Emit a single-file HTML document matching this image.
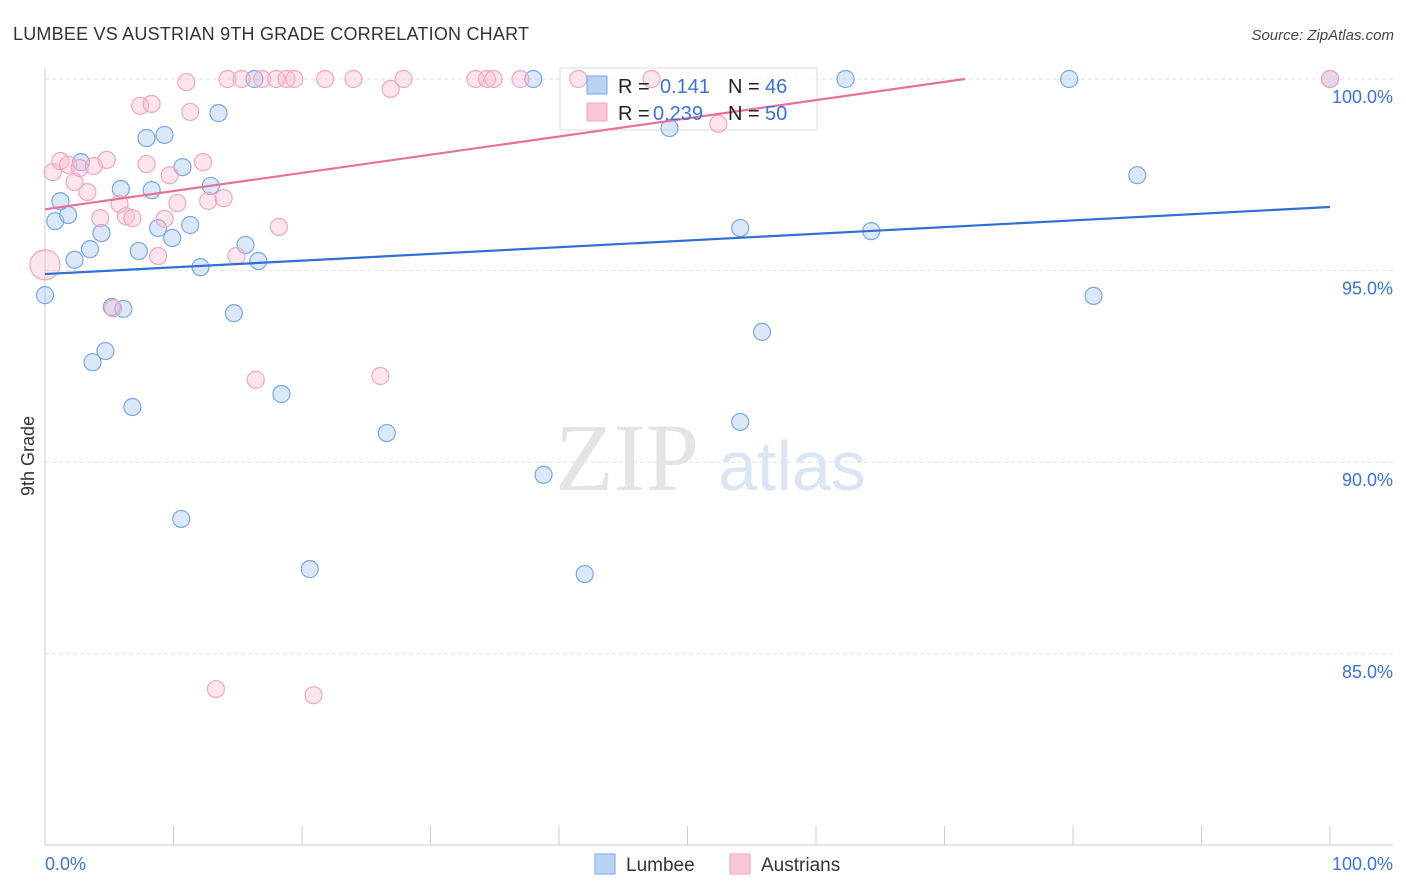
<!DOCTYPE html>
<html><head><meta charset="utf-8"><style>
body{margin:0;background:#fff;font-family:"Liberation Sans",sans-serif;}
#wrap{position:relative;width:1406px;height:892px;overflow:hidden;}
</style></head><body>
<div id="wrap">
<svg id="svg" width="1406" height="892"></svg>
</div>
<script>
const blueX=[0,0.8,1.2,1.8,2.3,2.8,3.5,3.7,4.4,4.7,5.2,6.1,5.9,6.8,7.3,7.9,8.3,8.8,9.3,9.9,10.7,10.6,11.3,12.1,12.9,13.5,14.7,15.6,16.3,16.6,18.4,20.6,26.6,38.0,38.8,42.0,48.6,54.1,54.1,55.8,62.3,64.3,79.7,81.6,85.0,100];
const blueY=[94.36,96.29,96.81,96.45,95.28,97.83,95.56,92.61,95.98,92.90,94.05,94.00,97.13,91.44,95.51,98.46,97.10,96.11,98.54,95.85,97.70,88.52,96.19,95.09,97.21,99.11,93.89,95.67,100,95.25,91.78,87.21,90.76,100,89.67,87.08,98.72,96.11,91.05,93.40,100,96.03,100,94.34,97.49,100];
const pinkX=[0,0.6,1.2,1.8,2.3,2.7,3.3,3.8,4.3,4.8,5.3,5.8,6.3,6.8,7.4,7.9,8.3,8.8,9.3,9.7,10.3,11.0,11.3,12.3,12.7,13.3,13.9,14.2,14.9,15.3,16.4,16.9,18.0,18.2,18.8,19.4,20.9,21.8,24.0,26.1,26.9,27.9,33.5,34.4,34.9,37.0,41.5,47.2,52.4,100];
const pinkY=[95.15,97.57,97.86,97.76,97.31,97.68,97.05,97.73,96.37,97.89,94.02,96.74,96.42,96.37,99.30,97.78,99.35,95.38,96.35,97.49,96.76,99.92,99.14,97.83,96.82,84.08,96.89,100,95.38,100,92.15,100,100,96.14,100,100,83.92,100,100,92.25,99.74,100,100,100,100,100,100,100,98.83,100];
const blueTrend=[94.91,96.66];
const pinkTrend=[96.6,101.35];
const yTicks=[100,95,90,85];
const yTickLabels=["100.0%","95.0%","90.0%","85.0%"];

const svg=document.getElementById('svg');
const NS='http://www.w3.org/2000/svg';
const X=v=>45+v*12.85;
const Y=v=>79+(100-v)*38.32;
function mk(t,a,p){const e=document.createElementNS(NS,t);for(const k in a)e.setAttribute(k,a[k]);(p||svg).appendChild(e);return e;}

yTicks.forEach((t,i)=>{
  const g=mk('line',{x1:45,x2:1393,y1:Y(t),y2:Y(t),stroke:'#e2e2e2','stroke-dasharray':'4,3'});
  
  
  const tx=mk('text',{x:1393,y:Y(t)+24,'text-anchor':'end','font-size':18,fill:'#3a74d4'});
  tx.textContent=yTickLabels[i];
  
  
});
let ax=mk('line',{x1:45,x2:45,y1:68,y2:845,stroke:'#ccc'});

ax=mk('line',{x1:45,x2:1393,y1:845,y2:845,stroke:'#ccc'});

for(let i=0;i<=10;i++){
  const t=mk('line',{x1:X(i*10),x2:X(i*10),y1:826,y2:845,stroke:'#ccc'});
  
  
}
const wm=mk('text',{x:555,y:490,'font-size':96,fill:'#e4e4e4','font-family':'Liberation Serif,serif'});
wm.textContent='ZIP';

const wm2=mk('text',{x:718,y:490,'font-size':70,fill:'#dbe6f5'});
wm2.textContent='atlas';


// legend box (drawn below points so they show through)
const lg=mk('g',{});

mk('rect',{x:560,y:68,width:257,height:62,fill:'rgba(255,255,255,0.8)',stroke:'#ddd'},lg);

function pts(xs,ys,stroke,fill,name){
  xs.forEach((x,i)=>{
    const c=mk('circle',{cx:X(x),cy:Y(ys[i]),r:(name==='austrians-point'&&i===0)?15:8.5,fill:fill,stroke:stroke,'stroke-width':1.2});
    
    
  });
}
pts(blueX,blueY,'#79a8e2','rgba(164,198,240,0.4)','lumbee-point');
pts(pinkX,pinkY,'#f0a6c0','rgba(246,186,206,0.38)','austrians-point');

let l=mk('line',{x1:X(0),y1:Y(blueTrend[0]),x2:X(100),y2:Y(blueTrend[1]),stroke:'#2f6fd6','stroke-width':2.2});

const pk=(100-pinkTrend[0])/(pinkTrend[1]-pinkTrend[0])*100;
l=mk('line',{x1:X(0),y1:Y(pinkTrend[0]),x2:X(pk),y2:Y(100),stroke:'#e8709a','stroke-width':2.2});


const lg2=mk('g',{});

mk('rect',{x:587,y:76,width:20,height:18,fill:'#b9d3f4',stroke:'#79a8e2'},lg2);
mk('rect',{x:587,y:103,width:20,height:18,fill:'#f9c7d6',stroke:'#f0a6c0'},lg2);
function t(x,y,s,c,n){const e=mk('text',{x:x,y:y,'font-size':20,fill:c},lg2);e.textContent=s;}
t(618,93,'R =','#222','r-label');t(660,93,'0.141','#3a74d4','lumbee-r');t(728,93,'N =','#222','n-label');t(765,93,'46','#3a74d4','lumbee-n');
t(618,120,'R =','#222','r-label');t(653,120,'0.239','#3a74d4','austrians-r');t(728,120,'N =','#222','n-label');t(765,120,'50','#3a74d4','austrians-n');

function tt(x,y,s,o,n){const e=mk('text',o);e.setAttribute('x',x);e.setAttribute('y',y);e.textContent=s;}
tt(13,40,'LUMBEE VS AUSTRIAN 9TH GRADE CORRELATION CHART',{'font-size':18,fill:'#333',textLength:516}, 'chart-title');
tt(1394,40,'Source: ZipAtlas.com',{'font-size':15,fill:'#444','text-anchor':'end','font-style':'italic'},'source');
tt(45,870,'0.0%',{'font-size':18,fill:'#3a74d4'},'x-min-label');
tt(1393,870,'100.0%',{'font-size':18,fill:'#3a74d4','text-anchor':'end'},'x-max-label');
const yl=mk('text',{x:0,y:0,'font-size':18,fill:'#333','text-anchor':'middle',transform:'translate(34,456) rotate(-90)'});
yl.textContent='9th Grade';
let r=mk('rect',{x:595,y:854,width:20,height:20,fill:'#b9d3f4',stroke:'#79a8e2'});

tt(626,871,'Lumbee',{'font-size':19,fill:'#333'},'legend-lumbee');
r=mk('rect',{x:730,y:854,width:20,height:20,fill:'#f9c7d6',stroke:'#f0a6c0'});

tt(761,871,'Austrians',{'font-size':19,fill:'#333'},'legend-austrians');
</script>
</body></html>
